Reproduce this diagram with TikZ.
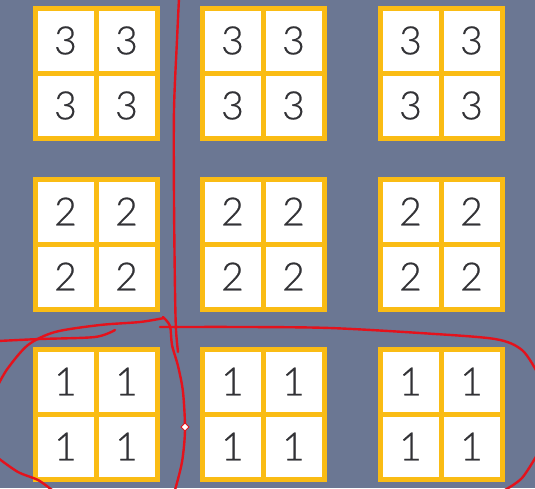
\documentclass[tikz,border=0pt]{standalone}
\usepackage{fontspec}
\setmainfont{Lato Light}[FakeBold=0.6]
\usetikzlibrary{positioning}
\definecolor{bgslate}{RGB}{107,119,147}
\definecolor{frameorange}{RGB}{250,188,20}
\definecolor{penred}{RGB}{228,18,28}
\definecolor{digitgray}{RGB}{50,50,54}

\begin{document}
\begin{tikzpicture}[x=1pt, y=-1pt,
  cell/.style={draw=frameorange, fill=white, line width=5pt, outer sep=0pt, inner sep=0pt, minimum width=61pt, minimum height=65pt, font=\fontsize{39}{39}\selectfont, text=digitgray},
  pen/.style={draw=penred, line width=2.4pt, line cap=round, line join=round}
]
\fill[bgslate] (0,0) rectangle (535,488);
\useasboundingbox (0,0) rectangle (535,488);

% Blocks of 2x2 cells
\foreach \r/\cy/\n in {1/73/3, 2/244/2, 3/414/1} {
  \foreach \c/\cx in {1/96, 2/263, 3/441} {
    \node[cell] (b\r\c-nw) at (\cx-30.5,\cy-32.5) {\n};
    \node[cell, right=0pt of b\r\c-nw] (b\r\c-ne) {\n};
    \node[cell, below=0pt of b\r\c-nw] (b\r\c-sw) {\n};
    \node[cell, below=0pt of b\r\c-ne] (b\r\c-se) {\n};
  }
}

% Red freehand strokes
\draw[pen] plot[smooth] coordinates {(179,-2) (177,40) (174,110) (174,200) (175,290) (176,330) (178,352)};
\draw[pen] plot[smooth] coordinates {(160,327) (250,327) (330,328) (420,333) (495,339) (522,350) (537,372)};
\draw[pen] plot[smooth] coordinates {(537,455) (522,478) (505,490)};
\draw[pen] plot[smooth] coordinates {(164,318) (140,322) (100,325) (55,332) (28,345) (8,368) (-2,385)};
\draw[pen] plot[smooth] coordinates {(-2,341) (40,339) (95,337) (115,330)};
\draw[pen] plot[smooth] coordinates {(-2,458) (18,472) (38,480) (52,490)};
\draw[pen] plot[smooth] coordinates {(163,317) (170,326) (172,345) (178,366) (183,392) (185,430) (182,462) (175,490)};
\filldraw[fill=white, draw=penred, line width=1pt] (185,423) -- (189,427) -- (185,431) -- (181,427) -- cycle;

\end{tikzpicture}
\end{document}
